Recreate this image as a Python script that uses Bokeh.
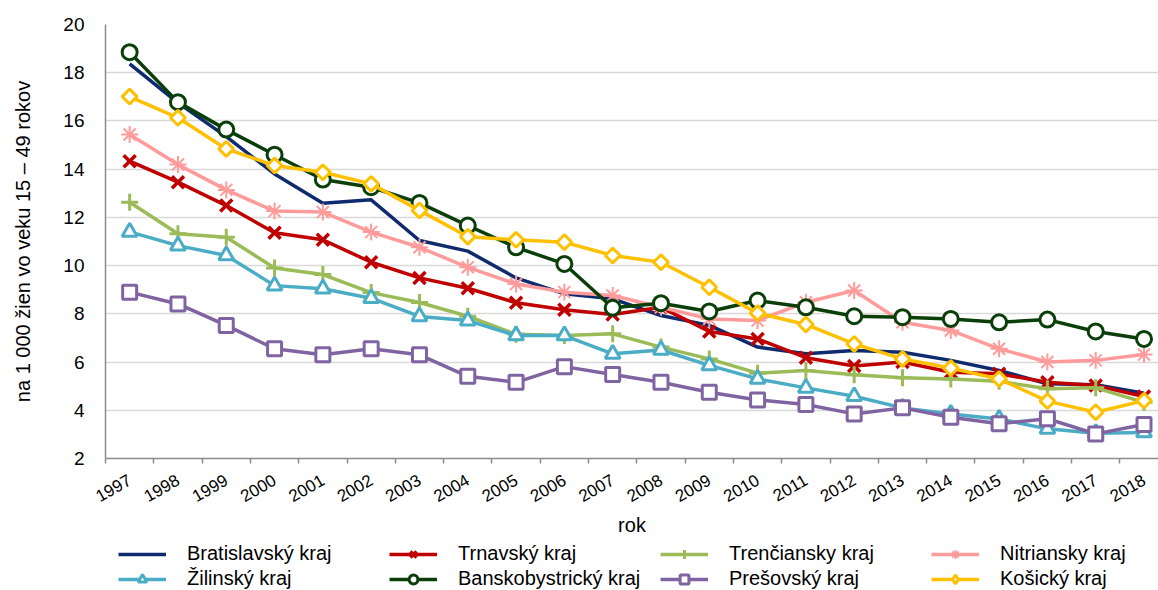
import math
from bokeh.plotting import figure
from bokeh.layouts import column
from bokeh.models import FixedTicker, Legend, LegendItem, ColumnDataSource
from bokeh.embed import file_html
from bokeh.resources import INLINE

years = list(range(1997, 2019))

bratislavsky = [18.37, 16.75, 15.35, 13.80, 12.59, 12.73, 11.04, 10.60, 9.49, 8.83, 8.62, 7.93, 7.52, 6.62, 6.34, 6.48, 6.41, 6.07, 5.65, 5.10, 5.06, 4.71]
trnavsky = [14.33, 13.46, 12.49, 11.36, 11.07, 10.14, 9.49, 9.06, 8.46, 8.17, 7.97, 8.27, 7.27, 6.96, 6.18, 5.84, 6.00, 5.58, 5.51, 5.16, 5.03, 4.57]
trenciansky = [12.63, 11.32, 11.18, 9.90, 9.63, 8.88, 8.47, 7.90, 7.15, 7.10, 7.17, 6.62, 6.13, 5.54, 5.65, 5.47, 5.35, 5.30, 5.20, 4.89, 4.93, 4.33]
nitriansky = [15.44, 14.19, 13.14, 12.26, 12.22, 11.39, 10.76, 9.93, 9.24, 8.90, 8.76, 8.27, 7.79, 7.72, 8.48, 8.97, 7.65, 7.31, 6.55, 6.00, 6.07, 6.31]
zilinsky = [11.40, 10.83, 10.42, 9.17, 9.04, 8.65, 7.89, 7.72, 7.10, 7.10, 6.34, 6.50, 5.86, 5.30, 4.93, 4.58, 4.10, 3.85, 3.64, 3.23, 3.05, 3.08]
banskobystricky = [18.85, 16.78, 15.64, 14.60, 13.57, 13.25, 12.60, 11.66, 10.76, 10.07, 8.25, 8.44, 8.10, 8.55, 8.27, 7.90, 7.86, 7.79, 7.65, 7.76, 7.27, 6.96]
presovsky = [8.90, 8.41, 7.52, 6.55, 6.30, 6.55, 6.30, 5.41, 5.16, 5.81, 5.48, 5.16, 4.75, 4.43, 4.24, 3.85, 4.10, 3.71, 3.44, 3.65, 3.02, 3.41]
kosicky = [17.01, 16.13, 14.84, 14.15, 13.87, 13.39, 12.29, 11.20, 11.07, 10.97, 10.42, 10.14, 9.10, 8.03, 7.56, 6.75, 6.13, 5.75, 5.30, 4.38, 3.92, 4.40]

series = [
    ("Bratislavský kraj", bratislavsky, "#0D2B6E", None),
    ("Trnavský kraj", trnavsky, "#C00000", "x"),
    ("Trenčiansky kraj", trenciansky, "#9BBB59", "cross"),
    ("Nitriansky kraj", nitriansky, "#FF9B9B", "asterisk"),
    ("Žilinský kraj", zilinsky, "#4BACC6", "triangle"),
    ("Banskobystrický kraj", banskobystricky, "#0A3F0A", "circle"),
    ("Prešovský kraj", presovsky, "#8064A2", "square"),
    ("Košický kraj", kosicky, "#FFC000", "diamond"),
]

FONT = "Liberation Sans"

MARKER_STYLE = {
    "x": dict(marker="x", size=17, line_width=3.5, angle=0.0),
    "cross": dict(marker="cross", size=17, line_width=3, angle=0.0),
    "asterisk": dict(marker="asterisk", size=17, line_width=2, angle=0.0),
    "triangle": dict(marker="triangle", size=15, line_width=3, angle=0.0),
    "circle": dict(marker="circle", size=15, line_width=3, angle=0.0),
    "square": dict(marker="square", size=14, line_width=3, angle=0.0),
    "diamond": dict(marker="square", size=10.5, line_width=3, angle=math.pi / 4),
}
# the legend draws markers without rotation, so it gets a true diamond glyph
LEGEND_MARKER_STYLE = dict(MARKER_STYLE)
LEGEND_MARKER_STYLE["diamond"] = dict(marker="diamond", size=16, line_width=3, angle=0.0)

# ---------------- main chart ----------------
p = figure(width=1158, height=541, output_backend="svg", toolbar_location=None,
           x_range=(1996.5, 2018.3), y_range=(2, 20),
           min_border_left=105, min_border_top=24, min_border_bottom=83, min_border_right=0)
p.outline_line_color = None

p.xgrid.grid_line_color = None
p.ygrid.grid_line_color = "#D9D9D9"
p.ygrid.grid_line_width = 1.5
p.yaxis.ticker = FixedTicker(ticks=list(range(2, 21, 2)))
p.xaxis.ticker = FixedTicker(ticks=years, minor_ticks=[y - 0.5 for y in years])

for ax in (p.xaxis[0], p.yaxis[0]):
    ax.axis_line_color = "#8C8C8C"
    ax.axis_line_width = 1.5
    ax.major_label_text_font = FONT
    ax.major_label_text_color = "black"
    ax.axis_label_text_font = FONT
    ax.axis_label_text_font_style = "normal"
    ax.axis_label_text_color = "black"
    ax.major_tick_line_color = None
    ax.minor_tick_line_color = None

p.yaxis.major_tick_out = 0
p.yaxis.major_tick_in = 0
p.yaxis.minor_tick_out = 0
p.yaxis.minor_tick_in = 0
p.yaxis.major_label_text_font_size = "19px"
p.yaxis.major_label_standoff = 21
p.yaxis.axis_label = "na 1 000 žien vo veku 15 – 49 rokov"
p.yaxis.axis_label_text_font_size = "20px"
p.yaxis.axis_label_standoff = 26

p.xaxis.major_tick_out = 5
p.xaxis.major_tick_in = 0
p.xaxis.minor_tick_line_color = "#8C8C8C"
p.xaxis.minor_tick_line_width = 1.5
p.xaxis.minor_tick_out = 5
p.xaxis.minor_tick_in = 0
p.xaxis.major_label_text_font_size = "17px"
p.xaxis.major_label_orientation = math.radians(30)
p.xaxis.major_label_standoff = 15
p.xaxis.axis_label = "rok"
p.xaxis.axis_label_text_font_size = "20px"
p.xaxis.axis_label_standoff = 3


def add_series(fig, styles):
    out = []
    for name, vals, color, marker in series:
        src = ColumnDataSource(dict(x=years, y=vals))
        rs = [fig.line("x", "y", source=src, line_color=color, line_width=3.5)]
        if marker is not None:
            st = styles[marker]
            rs.append(fig.scatter("x", "y", source=src, marker=st["marker"], size=st["size"],
                                  angle=st["angle"], line_color=color, fill_color="white",
                                  line_width=st["line_width"]))
        out.append(LegendItem(label=name, renderers=rs))
    return out


add_series(p, MARKER_STYLE)

# ---------------- legend strip ----------------
q = figure(width=1158, height=49, output_backend="svg", toolbar_location=None,
           x_range=(1996.5, 2018.3), y_range=(100, 101),
           min_border_left=0, min_border_top=0, min_border_bottom=0, min_border_right=0)
q.outline_line_color = None
q.axis.visible = False
q.grid.visible = False
items = add_series(q, LEGEND_MARKER_STYLE)

legend = Legend(items=items, location=(13, 0), orientation="horizontal", ncols=4,
                label_text_font=FONT, label_text_font_size="20px", label_text_color="black",
                glyph_width=48, glyph_height=22, label_height=22, label_width=200,
                label_standoff=21, spacing=2, padding=0, margin=0,
                border_line_color=None, background_fill_alpha=0)
q.add_layout(legend, "center")

layout = column(p, q, spacing=0)
open("out.html", "w").write(file_html(layout, INLINE))
